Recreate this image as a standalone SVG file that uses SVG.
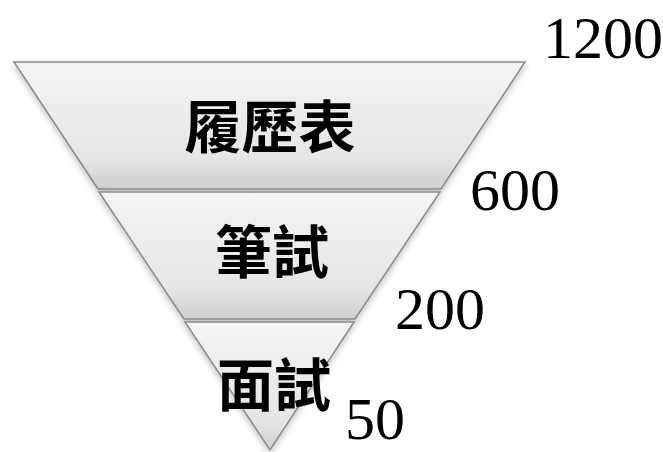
<svg xmlns="http://www.w3.org/2000/svg" width="663" height="452" viewBox="0 0 663 452">
<defs>
<linearGradient id="g" x1="0" y1="0" x2="0" y2="1">
<stop offset="0" stop-color="#f4f4f4"/>
<stop offset="0.75" stop-color="#e6e6e6"/>
<stop offset="1" stop-color="#cfcfcf"/>
</linearGradient>
<filter id="sh" x="-10%" y="-10%" width="120%" height="130%">
<feDropShadow dx="0" dy="3" stdDeviation="3" flood-color="#000" flood-opacity="0.25"/>
</filter>
</defs>
<style>
.band{fill:url(#g);stroke:#8a8a8a;stroke-width:1.5;filter:url(#sh)}
.cjk{font-family:"Noto Sans CJK TC","Noto Sans CJK SC",sans-serif;font-weight:bold;font-size:57px;fill:#000;text-anchor:middle}
.num{font-family:"Liberation Serif",serif;font-size:60px;fill:#000}
</style>
<rect width="663" height="452" fill="#fff"/>
<g id="band1">
<polygon class="band" points="14,62 525,62 441,189 98,189"/>
<text class="cjk" x="270" y="148">履歷表</text>
</g>
<g id="band2">
<polygon class="band" points="99,192 440,192 355,319 184,319"/>
<text class="cjk" x="272" y="273">筆試</text>
</g>
<g id="band3">
<polygon class="band" points="185,322 354,322 270,450"/>
<text class="cjk" x="274" y="406">面試</text>
</g>
<g id="labels">
<text class="num" x="543" y="58">1200</text>
<text class="num" x="470" y="210">600</text>
<text class="num" x="395" y="329">200</text>
<text class="num" x="345" y="439">50</text>
</g>
</svg>
